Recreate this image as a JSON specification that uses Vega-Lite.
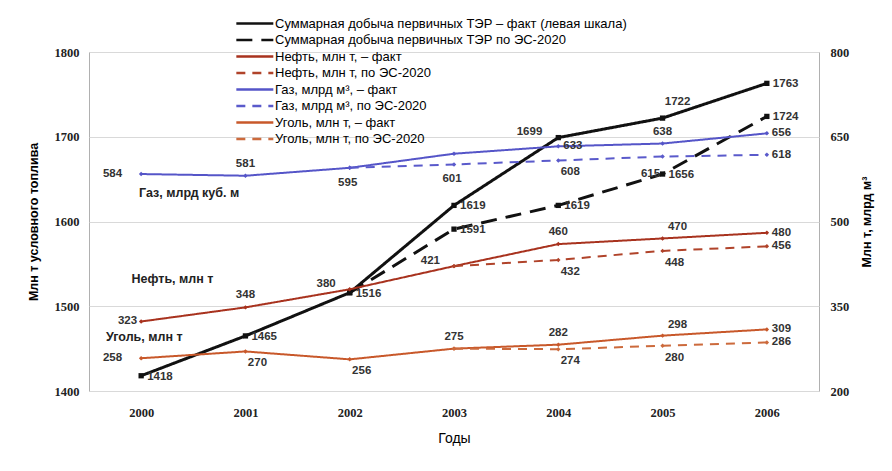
{
  "$schema": "https://vega.github.io/schema/vega-lite/v6.json",
  "width": 730,
  "height": 339,
  "autosize": {"type": "none"},
  "padding": {"left": 89, "top": 52, "right": 73, "bottom": 80},
  "background": "white",
  "config": {
    "view": {"stroke": "#b0b0b0", "strokeWidth": 1},
    "axis": {"labelFont": "Liberation Serif", "labelFontWeight": "bold", "labelFontSize": 12.5, "labelColor": "#222", "titleFont": "Liberation Sans", "titleColor": "#000", "ticks": false, "domain": false},
    "text": {"font": "Liberation Sans", "fontWeight": "bold", "fontSize": 11.5, "fill": "#333", "baseline": "middle"}
  },
  "datasets": {
    "main": [
      {"key": "totF", "series": "Суммарная добыча первичных ТЭР – факт (левая шкала)", "year": 2000, "v": 1418},
      {"key": "totF", "series": "Суммарная добыча первичных ТЭР – факт (левая шкала)", "year": 2001, "v": 1465},
      {"key": "totF", "series": "Суммарная добыча первичных ТЭР – факт (левая шкала)", "year": 2002, "v": 1516},
      {"key": "totF", "series": "Суммарная добыча первичных ТЭР – факт (левая шкала)", "year": 2003, "v": 1619},
      {"key": "totF", "series": "Суммарная добыча первичных ТЭР – факт (левая шкала)", "year": 2004, "v": 1699},
      {"key": "totF", "series": "Суммарная добыча первичных ТЭР – факт (левая шкала)", "year": 2005, "v": 1722},
      {"key": "totF", "series": "Суммарная добыча первичных ТЭР – факт (левая шкала)", "year": 2006, "v": 1763},
      {"key": "totE", "series": "Суммарная добыча первичных ТЭР по ЭС-2020", "year": 2002, "v": 1516},
      {"key": "totE", "series": "Суммарная добыча первичных ТЭР по ЭС-2020", "year": 2003, "v": 1591},
      {"key": "totE", "series": "Суммарная добыча первичных ТЭР по ЭС-2020", "year": 2004, "v": 1619},
      {"key": "totE", "series": "Суммарная добыча первичных ТЭР по ЭС-2020", "year": 2005, "v": 1656},
      {"key": "totE", "series": "Суммарная добыча первичных ТЭР по ЭС-2020", "year": 2006, "v": 1724},
      {"key": "oilF", "series": "Нефть, млн т, – факт", "year": 2000, "v": 323},
      {"key": "oilF", "series": "Нефть, млн т, – факт", "year": 2001, "v": 348},
      {"key": "oilF", "series": "Нефть, млн т, – факт", "year": 2002, "v": 380},
      {"key": "oilF", "series": "Нефть, млн т, – факт", "year": 2003, "v": 421},
      {"key": "oilF", "series": "Нефть, млн т, – факт", "year": 2004, "v": 460},
      {"key": "oilF", "series": "Нефть, млн т, – факт", "year": 2005, "v": 470},
      {"key": "oilF", "series": "Нефть, млн т, – факт", "year": 2006, "v": 480},
      {"key": "oilE", "series": "Нефть, млн т, по ЭС-2020", "year": 2003, "v": 421},
      {"key": "oilE", "series": "Нефть, млн т, по ЭС-2020", "year": 2004, "v": 432},
      {"key": "oilE", "series": "Нефть, млн т, по ЭС-2020", "year": 2005, "v": 448},
      {"key": "oilE", "series": "Нефть, млн т, по ЭС-2020", "year": 2006, "v": 456},
      {"key": "gasF", "series": "Газ, млрд м³, – факт", "year": 2000, "v": 584},
      {"key": "gasF", "series": "Газ, млрд м³, – факт", "year": 2001, "v": 581},
      {"key": "gasF", "series": "Газ, млрд м³, – факт", "year": 2002, "v": 595},
      {"key": "gasF", "series": "Газ, млрд м³, – факт", "year": 2003, "v": 620},
      {"key": "gasF", "series": "Газ, млрд м³, – факт", "year": 2004, "v": 633},
      {"key": "gasF", "series": "Газ, млрд м³, – факт", "year": 2005, "v": 638},
      {"key": "gasF", "series": "Газ, млрд м³, – факт", "year": 2006, "v": 656},
      {"key": "gasE", "series": "Газ, млрд м³, по ЭС-2020", "year": 2002, "v": 595},
      {"key": "gasE", "series": "Газ, млрд м³, по ЭС-2020", "year": 2003, "v": 601},
      {"key": "gasE", "series": "Газ, млрд м³, по ЭС-2020", "year": 2004, "v": 608},
      {"key": "gasE", "series": "Газ, млрд м³, по ЭС-2020", "year": 2005, "v": 615},
      {"key": "gasE", "series": "Газ, млрд м³, по ЭС-2020", "year": 2006, "v": 618},
      {"key": "coalF", "series": "Уголь, млн т, – факт", "year": 2000, "v": 258},
      {"key": "coalF", "series": "Уголь, млн т, – факт", "year": 2001, "v": 270},
      {"key": "coalF", "series": "Уголь, млн т, – факт", "year": 2002, "v": 256},
      {"key": "coalF", "series": "Уголь, млн т, – факт", "year": 2003, "v": 275},
      {"key": "coalF", "series": "Уголь, млн т, – факт", "year": 2004, "v": 282},
      {"key": "coalF", "series": "Уголь, млн т, – факт", "year": 2005, "v": 298},
      {"key": "coalF", "series": "Уголь, млн т, – факт", "year": 2006, "v": 309},
      {"key": "coalE", "series": "Уголь, млн т, по ЭС-2020", "year": 2003, "v": 275},
      {"key": "coalE", "series": "Уголь, млн т, по ЭС-2020", "year": 2004, "v": 274},
      {"key": "coalE", "series": "Уголь, млн т, по ЭС-2020", "year": 2005, "v": 280},
      {"key": "coalE", "series": "Уголь, млн т, по ЭС-2020", "year": 2006, "v": 286}
    ],
    "notes": [
      {"year": 2000.46, "v": 550, "text": "Газ, млрд куб. м"},
      {"year": 2000.30, "v": 398, "text": "Нефть, млн т"},
      {"year": 2000.03, "v": 296, "text": "Уголь, млн т"}
    ]
  },
  "data": {"name": "main"},
  "encoding": {
    "x": {
      "field": "year", "type": "quantitative",
      "scale": {"domain": [1999.5, 2006.5], "nice": false, "zero": false},
      "axis": {"values": [2000, 2001, 2002, 2003, 2004, 2005, 2006], "format": "d", "title": "Годы", "grid": false, "labelPadding": 15, "titlePadding": 13, "titleFontSize": 14, "titleFontWeight": "normal"}
    }
  },
  "layer": [
    {
      "transform": [{"filter": "datum.key == 'totF' || datum.key == 'totE'"}],
      "encoding": {
        "y": {
          "field": "v", "type": "quantitative",
          "scale": {"domain": [1400, 1800], "nice": false, "zero": false},
          "axis": {"orient": "left", "values": [1400, 1500, 1600, 1700, 1800], "format": "d", "grid": true, "gridColor": "#d9d9d9", "title": "Млн т условного топлива", "titleFontSize": 12.5, "titleFontWeight": "bold", "labelPadding": 10, "titlePadding": 14}
        }
      },
      "layer": [
        {
          "mark": {"type": "line", "strokeWidth": 3},
          "encoding": {
            "color": {
              "field": "series", "type": "nominal",
              "scale": {
                "domain": ["Суммарная добыча первичных ТЭР – факт (левая шкала)", "Суммарная добыча первичных ТЭР по ЭС-2020", "Нефть, млн т, – факт", "Нефть, млн т, по ЭС-2020", "Газ, млрд м³, – факт", "Газ, млрд м³, по ЭС-2020", "Уголь, млн т, – факт", "Уголь, млн т, по ЭС-2020"],
                "range": ["#111111", "#111111", "#a8321e", "#b0432a", "#5555c8", "#5a5acb", "#c8582a", "#cc6a3c"]
              },
              "legend": {"orient": "none", "legendX": 146, "legendY": -36, "title": null, "symbolType": "M-1,0H5", "symbolSize": 152, "symbolStrokeWidth": 2.5, "labelFont": "Liberation Sans", "labelFontSize": 13, "labelColor": "#000", "labelLimit": 600, "rowPadding": 1.5, "labelOffset": 25, "padding": 0}
            },
            "strokeDash": {
              "field": "series", "type": "nominal",
              "scale": {
                "domain": ["Суммарная добыча первичных ТЭР – факт (левая шкала)", "Суммарная добыча первичных ТЭР по ЭС-2020", "Нефть, млн т, – факт", "Нефть, млн т, по ЭС-2020", "Газ, млрд м³, – факт", "Газ, млрд м³, по ЭС-2020", "Уголь, млн т, – факт", "Уголь, млн т, по ЭС-2020"],
                "range": [[1, 0], [16, 9], [1, 0], [9, 7], [1, 0], [9, 7], [1, 0], [9, 7]]
              }
            }
          }
        },
        {"mark": {"type": "point", "shape": "square", "filled": true, "size": 28, "opacity": 1}, "encoding": {"color": {"field": "series", "type": "nominal"}}},
        {"transform": [{"filter": "indexof(['totF2000','totF2001','totF2002','totF2003','totF2006','totE2003','totE2004','totE2005','totE2006'], datum.key + datum.year) >= 0"}], "mark": {"type": "text", "align": "left", "dx": 6, "dy": 1}, "encoding": {"text": {"field": "v", "type": "quantitative", "format": "d"}}},
        {"transform": [{"filter": "datum.key + datum.year == 'totF2004'"}], "mark": {"type": "text", "align": "right", "dx": -16, "dy": -6}, "encoding": {"text": {"field": "v", "type": "quantitative", "format": "d"}}},
        {"transform": [{"filter": "datum.key + datum.year == 'totF2005'"}], "mark": {"type": "text", "align": "center", "dx": 15, "dy": -16}, "encoding": {"text": {"field": "v", "type": "quantitative", "format": "d"}}}
      ]
    },
    {
      "transform": [{"filter": "datum.key != 'totF' && datum.key != 'totE'"}],
      "encoding": {
        "y": {
          "field": "v", "type": "quantitative",
          "scale": {"domain": [200, 800], "nice": false, "zero": false},
          "axis": {"orient": "right", "values": [200, 350, 500, 650, 800], "format": "d", "grid": false, "title": "Млн т, млрд м³", "titleAngle": 270, "titleFontSize": 12.5, "titleFontWeight": "bold", "labelPadding": 11, "titlePadding": 25}
        }
      },
      "layer": [
        {
          "mark": {"type": "line", "strokeWidth": 2},
          "encoding": {
            "color": {"field": "series", "type": "nominal"},
            "strokeDash": {"field": "series", "type": "nominal"}
          }
        },
        {"mark": {"type": "point", "shape": "diamond", "filled": true, "size": 20, "opacity": 1}, "encoding": {"color": {"field": "series", "type": "nominal"}}},
        {"transform": [{"filter": "indexof(['oilF2006','oilE2006','gasF2006','gasE2006','coalF2006','coalE2006','gasF2004'], datum.key + datum.year) >= 0"}], "mark": {"type": "text", "align": "left", "dx": 5}, "encoding": {"text": {"field": "v", "type": "quantitative", "format": "d"}}},
        {"transform": [{"filter": "indexof(['oilF2001','oilF2004','gasF2001','gasF2005','coalF2003','coalF2004'], datum.key + datum.year) >= 0"}], "mark": {"type": "text", "align": "center", "dy": -12}, "encoding": {"text": {"field": "v", "type": "quantitative", "format": "d"}}},
        {"transform": [{"filter": "indexof(['oilF2005','coalF2005'], datum.key + datum.year) >= 0"}], "mark": {"type": "text", "align": "center", "dx": 15, "dy": -11}, "encoding": {"text": {"field": "v", "type": "quantitative", "format": "d"}}},
        {"transform": [{"filter": "indexof(['oilF2002','oilF2003'], datum.key + datum.year) >= 0"}], "mark": {"type": "text", "align": "right", "dx": -14, "dy": -5}, "encoding": {"text": {"field": "v", "type": "quantitative", "format": "d"}}},
        {"transform": [{"filter": "indexof(['coalF2001','coalF2002','coalE2004','coalE2005','oilE2004','oilE2005','gasE2004'], datum.key + datum.year) >= 0"}], "mark": {"type": "text", "align": "center", "dx": 12, "dy": 12}, "encoding": {"text": {"field": "v", "type": "quantitative", "format": "d"}}},
        {"transform": [{"filter": "indexof(['gasF2002','gasE2003'], datum.key + datum.year) >= 0"}], "mark": {"type": "text", "align": "center", "dx": -2, "dy": 15}, "encoding": {"text": {"field": "v", "type": "quantitative", "format": "d"}}},
        {"transform": [{"filter": "datum.key + datum.year == 'gasE2005'"}], "mark": {"type": "text", "align": "center", "dx": -12, "dy": 17}, "encoding": {"text": {"field": "v", "type": "quantitative", "format": "d"}}},
        {"transform": [{"filter": "indexof(['gasF2000','coalF2000'], datum.key + datum.year) >= 0"}], "mark": {"type": "text", "align": "right", "dx": -19}, "encoding": {"text": {"field": "v", "type": "quantitative", "format": "d"}}},
        {"transform": [{"filter": "datum.key + datum.year == 'oilF2000'"}], "mark": {"type": "text", "align": "right", "dx": -4, "dy": -1}, "encoding": {"text": {"field": "v", "type": "quantitative", "format": "d"}}},
        {"data": {"name": "notes"}, "mark": {"type": "text", "fontSize": 12.5, "fill": "#222", "align": "center"}, "encoding": {"text": {"field": "text", "type": "nominal"}}}
      ]
    }
  ],
  "resolve": {"scale": {"y": "independent"}}
}
